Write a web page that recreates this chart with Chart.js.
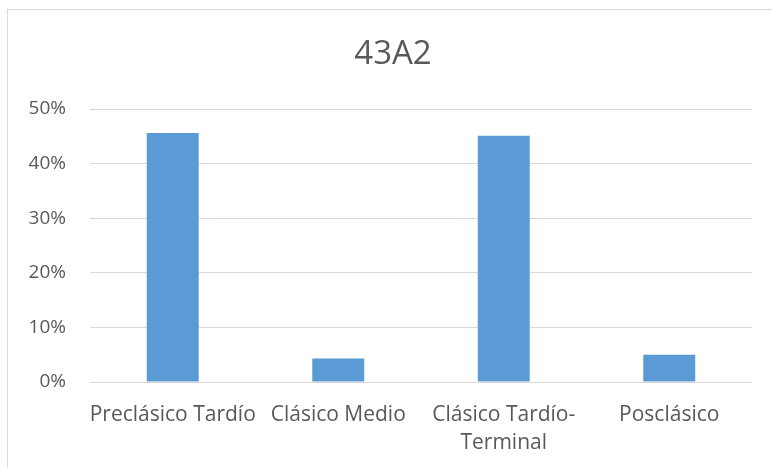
<!DOCTYPE html>
<html>
<head>
<meta charset="utf-8">
<script src="https://cdn.jsdelivr.net/npm/chart.js@4"></script>
<style>
  html, body { margin: 0; padding: 0; background: #fff; }
  #wrap { position: relative; width: 772px; height: 468px; overflow: hidden; }
  #frame { position: absolute; left: 7px; top: 9px; width: 800px; height: 500px;
           border-left: 1px solid #d9d9d9; border-top: 1px solid #d9d9d9; }
  canvas { position: absolute; left: 0; top: 0; }
</style>
</head>
<body>
<div id="wrap">
  <div id="frame"></div>
  <canvas id="myChart" width="772" height="468"></canvas>
</div>
<script>
// datos del gráfico
const titulo = '43A2';
const categorias = ['Preclásico Tardío', 'Clásico Medio', ['Clásico Tardío-', 'Terminal'], 'Posclásico'];
const porcentajes = [45.6, 4.3, 45.1, 5.0];
const ticksY = [0, 10, 20, 30, 40, 50];

document.addEventListener('DOMContentLoaded', function() {
const canvas = document.getElementById('myChart');
const fuente = "'Open Sans', sans-serif";

// título centrado sobre el marco, no sobre el área del gráfico
const tituloMarco = {
  id: 'tituloMarco',
  afterDraw(chart) {
    const ctx = chart.ctx;
    ctx.save();
    ctx.fillStyle = '#595959';
    ctx.font = '33px ' + fuente;
    ctx.textAlign = 'center';
    ctx.textBaseline = 'middle';
    ctx.fillText(titulo, 393, 55);
    ctx.restore();
  }
};

new Chart(canvas, {
  type: 'bar',
  data: {
    labels: categorias,
    datasets: [{
      label: titulo,
      data: porcentajes,
      backgroundColor: '#5b9bd5',
      categoryPercentage: 1,
      barPercentage: 0.314
    }]
  },
  options: {
    responsive: false,
    animation: false,
    layout: { padding: { left: 0, right: 20, top: 109, bottom: 0 } },
    plugins: {
      legend: { display: false },
      tooltip: { enabled: false },
      title: { display: false }
    },
    scales: {
      x: {
        grid: { display: false },
        border: { display: false },
        ticks: {
          color: '#595959',
          font: { family: fuente, size: 21, lineHeight: 1.33 },
          padding: 11,
          maxRotation: 0,
          autoSkip: false
        },
        afterFit: function(s) { s.height = 86; }
      },
      y: {
        min: 0,
        max: 50,
        afterBuildTicks: function(s) { s.ticks = ticksY.map(v => ({ value: v })); },
        grid: { color: '#d9d9d9', lineWidth: 1, drawTicks: false },
        border: { display: false },
        ticks: {
          color: '#595959',
          font: { family: fuente, size: 19 },
          padding: 24,
          callback: v => v + '%'
        },
        afterFit: function(s) { s.width = 90; }
      }
    }
  },
  plugins: [tituloMarco]
});
});
</script>
</body>
</html>
